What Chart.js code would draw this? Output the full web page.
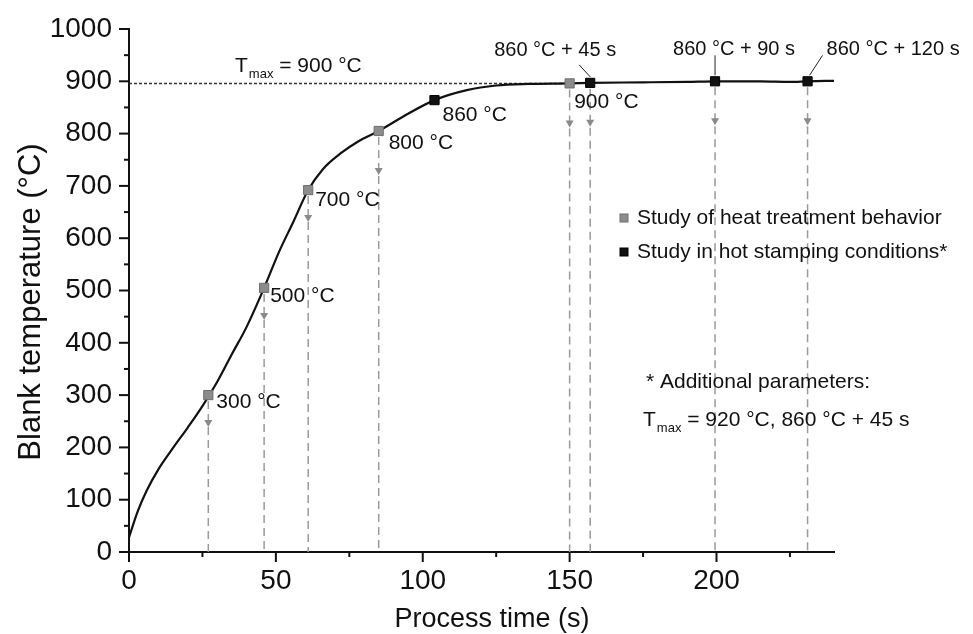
<!DOCTYPE html>
<html>
<head>
<meta charset="utf-8">
<title>Blank temperature</title>
<script src="https://cdn.jsdelivr.net/npm/chart.js@4.4.1/dist/chart.umd.min.js"></script>
<style>
  html, body { margin: 0; padding: 0; background: #fff; }
</style>
</head>
<body>
<canvas id="tempChart" width="973" height="634"></canvas>
<script>
// Heating curve (s, °C)
const curveTime = [0, 3, 6, 10, 15, 20, 25, 30, 35, 40, 46, 51, 56, 61, 66, 72, 78, 85, 95, 104, 115, 125, 136, 150, 157, 175, 190, 200, 215, 225, 231, 240];
const curveTemp = [28, 78, 117, 158, 199, 238, 279, 325, 378, 430, 505, 573, 632, 692, 732, 762, 785, 805, 838, 864, 883, 892, 895, 896, 897, 898, 899, 900, 900, 899, 900, 901];

// Sampling points
const heatTreatTime = [27, 46, 61, 85, 150];
const heatTreatTemp = [300, 505, 692, 805, 896];
const hotStampTime = [104, 157, 199.5, 231];
const hotStampTemp = [864, 897, 900, 900];

// Dashed drop lines (all points except the 860 °C one)
const guideTime = [27, 46, 61, 85, 150, 157, 199.5, 231];
const guideTemp = [300, 505, 692, 805, 896, 897, 900, 900];

// Labels next to points
const pointLabels = ['300 °C', '500 °C', '700 °C', '800 °C', '860 °C', '900 °C'];
const pointLabelTime = [27, 46, 61, 85, 104, 157];
const pointLabelTemp = [300, 505, 692, 805, 864, 897];

// Holding time labels above the plateau
const holdLabels = ['860 °C + 45 s', '860 °C + 90 s', '860 °C + 120 s'];
const holdTime = [157, 199.5, 231];
const holdTemp = [897, 900, 900];

const tmaxLineTemp = 896;
const tmaxLineTime = [0, 150];

const xTitle = 'Process time (s)';
const yTitle = 'Blank temperature (°C)';
const legendLabels = ['Study of heat treatment behavior', 'Study in hot stamping conditions*'];

const FONT = '"Liberation Sans", Arial, Helvetica, sans-serif';
const GRAY = '#8c8c8c';

function pts(xs, ys) {
    return xs.map((x, i) => ({ x: x, y: ys[i] }));
}

// T with "max" subscript followed by the rest of the text
function drawTmax(ctx, x, baseline, rest) {
    ctx.textAlign = 'left';
    ctx.textBaseline = 'alphabetic';
    ctx.font = '21px ' + FONT;
    ctx.fillText('T', x, baseline);
    let w = ctx.measureText('T').width;
    ctx.font = '13px ' + FONT;
    ctx.fillText('max', x + w + 1, baseline + 6);
    w += 1 + ctx.measureText('max').width;
    ctx.font = '21px ' + FONT;
    ctx.fillText(rest, x + w, baseline);
}

const annotations = {
    id: 'annotations',
    beforeDatasetsDraw(chart) {
        const ctx = chart.ctx;
        const xs = chart.scales.x, ys = chart.scales.y;
        ctx.save();
        // vertical drop lines
        ctx.strokeStyle = '#9a9a9a';
        ctx.lineWidth = 1.5;
        ctx.setLineDash([8, 5]);
        guideTime.forEach((t, i) => {
            const px = xs.getPixelForValue(t);
            const py = ys.getPixelForValue(guideTemp[i]);
            ctx.beginPath();
            ctx.moveTo(px, py + 6);
            ctx.lineTo(px, ys.getPixelForValue(0));
            ctx.stroke();
        });
        ctx.setLineDash([]);
        // small arrows on the drop lines
        ctx.fillStyle = '#8a8a8a';
        guideTime.forEach((t, i) => {
            const px = xs.getPixelForValue(t);
            const py = ys.getPixelForValue(guideTemp[i]);
            const ay = py + (guideTemp[i] >= 800 ? 41 : 29);
            ctx.beginPath();
            ctx.moveTo(px - 4, ay - 4);
            ctx.lineTo(px + 4, ay - 4);
            ctx.lineTo(px, ay + 3);
            ctx.closePath();
            ctx.fill();
        });
        ctx.restore();
    },
    afterDraw(chart) {
        const ctx = chart.ctx;
        const xs = chart.scales.x, ys = chart.scales.y;
        const area = chart.chartArea;
        ctx.save();

        // tick marks (major 10 px, minor 5 px, outside)
        ctx.strokeStyle = '#111';
        ctx.lineWidth = 2;
        xs.ticks.forEach(tk => {
            const px = xs.getPixelForValue(tk.value);
            const len = tk.value % 50 === 0 ? 10 : 5;
            ctx.beginPath();
            ctx.moveTo(px, area.bottom);
            ctx.lineTo(px, area.bottom + len);
            ctx.stroke();
        });
        ys.ticks.forEach(tk => {
            const py = ys.getPixelForValue(tk.value);
            const len = tk.value % 100 === 0 ? 10 : 5;
            ctx.beginPath();
            ctx.moveTo(area.left, py);
            ctx.lineTo(area.left - len, py);
            ctx.stroke();
        });

        ctx.fillStyle = '#111';

        // axis titles
        ctx.font = '27px ' + FONT;
        ctx.textAlign = 'center';
        ctx.textBaseline = 'middle';
        ctx.fillText(xTitle, 492, 620);
        ctx.save();
        ctx.translate(31, 302);
        ctx.rotate(-Math.PI / 2);
        ctx.font = '31px ' + FONT;
        ctx.fillText(yTitle, 0, 0);
        ctx.restore();

        // labels next to points
        const offs = [[8, 7], [6, 8], [7, 10], [10, 12], [8, 15], [-16, 19]];
        ctx.font = '21px ' + FONT;
        ctx.textAlign = 'left';
        ctx.textBaseline = 'middle';
        pointLabels.forEach((txt, i) => {
            const px = xs.getPixelForValue(pointLabelTime[i]);
            const py = ys.getPixelForValue(pointLabelTemp[i]);
            ctx.fillText(txt, px + offs[i][0], py + offs[i][1]);
        });

        // holding labels with leader lines
        const holdDx = [-96, -42, 19];
        const leadFrom = [[-11, -18], [0, -26], [15, -26]];
        const leadTo = [[0, -6], [0, -6], [2, -6]];
        ctx.font = '20px ' + FONT;
        ctx.lineWidth = 1;
        ctx.strokeStyle = '#222';
        holdLabels.forEach((txt, i) => {
            const px = xs.getPixelForValue(holdTime[i]);
            const py = ys.getPixelForValue(holdTemp[i]);
            ctx.fillText(txt, px + holdDx[i], py - 32);
            ctx.beginPath();
            ctx.moveTo(px + leadFrom[i][0], py + leadFrom[i][1]);
            ctx.lineTo(px + leadTo[i][0], py + leadTo[i][1]);
            ctx.stroke();
        });

        // Tmax label over the dotted line
        drawTmax(ctx, 235, 72, ' = 900 °C');

        // legend
        const sq = [[GRAY, '#6e6e6e'], ['#111', '#000']];
        legendLabels.forEach((txt, i) => {
            const ly = 218 + i * 34;
            ctx.fillStyle = sq[i][0];
            ctx.fillRect(620, ly - 4, 8, 8);
            ctx.strokeStyle = sq[i][1];
            ctx.strokeRect(620, ly - 4, 8, 8);
            ctx.fillStyle = '#111';
            ctx.font = '21px ' + FONT;
            ctx.textAlign = 'left';
            ctx.textBaseline = 'middle';
            ctx.fillText(txt, 637, ly);
        });

        // footnote
        ctx.fillText('* Additional parameters:', 646, 382);
        drawTmax(ctx, 643, 426, ' = 920 °C, 860 °C + 45 s');

        ctx.restore();
    }
};

const ctx = document.getElementById('tempChart').getContext('2d');
const tempChart = new Chart(ctx, {
    type: 'line',
    data: {
        datasets: [
            {
                label: legendLabels[1],
                type: 'scatter',
                data: pts(hotStampTime, hotStampTemp),
                pointStyle: 'rect',
                pointRadius: 6.5,
                backgroundColor: '#111',
                borderColor: '#000',
                borderWidth: 1
            },
            {
                label: legendLabels[0],
                type: 'scatter',
                data: pts(heatTreatTime, heatTreatTemp),
                pointStyle: 'rect',
                pointRadius: 6.5,
                backgroundColor: GRAY,
                borderColor: '#6e6e6e',
                borderWidth: 1
            },
            {
                label: 'Temperature',
                data: pts(curveTime, curveTemp),
                borderColor: '#111',
                borderWidth: 2.2,
                pointRadius: 0,
                cubicInterpolationMode: 'monotone',
                fill: false
            },
            {
                label: 'Tmax',
                data: tmaxLineTime.map(t => ({ x: t, y: tmaxLineTemp })),
                borderColor: '#333',
                borderWidth: 1.5,
                borderDash: [3, 2],
                pointRadius: 0,
                fill: false
            }
        ]
    },
    options: {
        responsive: false,
        animation: false,
        layout: { padding: { left: 0, right: 139, top: 29, bottom: 0 } },
        plugins: {
            legend: { display: false },
            tooltip: { enabled: false }
        },
        scales: {
            x: {
                type: 'linear',
                min: 0,
                max: 240,
                border: { display: true, color: '#111', width: 2 },
                grid: { display: true, drawOnChartArea: false, drawTicks: true, tickLength: 10, color: 'transparent', tickColor: 'transparent' },
                ticks: {
                    stepSize: 25,
                    includeBounds: false,
                    autoSkip: false,
                    maxRotation: 0,
                    padding: 2,
                    color: '#111',
                    font: { family: FONT, size: 28 },
                    callback: v => (v % 50 === 0 ? v : '')
                },
                afterFit: s => { s.height = 82; }
            },
            y: {
                min: 0,
                max: 1000,
                border: { display: true, color: '#111', width: 2 },
                grid: { display: true, drawOnChartArea: false, drawTicks: true, tickLength: 10, color: 'transparent', tickColor: 'transparent' },
                ticks: {
                    stepSize: 50,
                    autoSkip: false,
                    padding: 7,
                    color: '#111',
                    font: { family: FONT, size: 28 },
                    callback: v => (v % 100 === 0 ? v : '')
                },
                afterFit: s => { s.width = 129; }
            }
        }
    },
    plugins: [annotations]
});
</script>
</body>
</html>
